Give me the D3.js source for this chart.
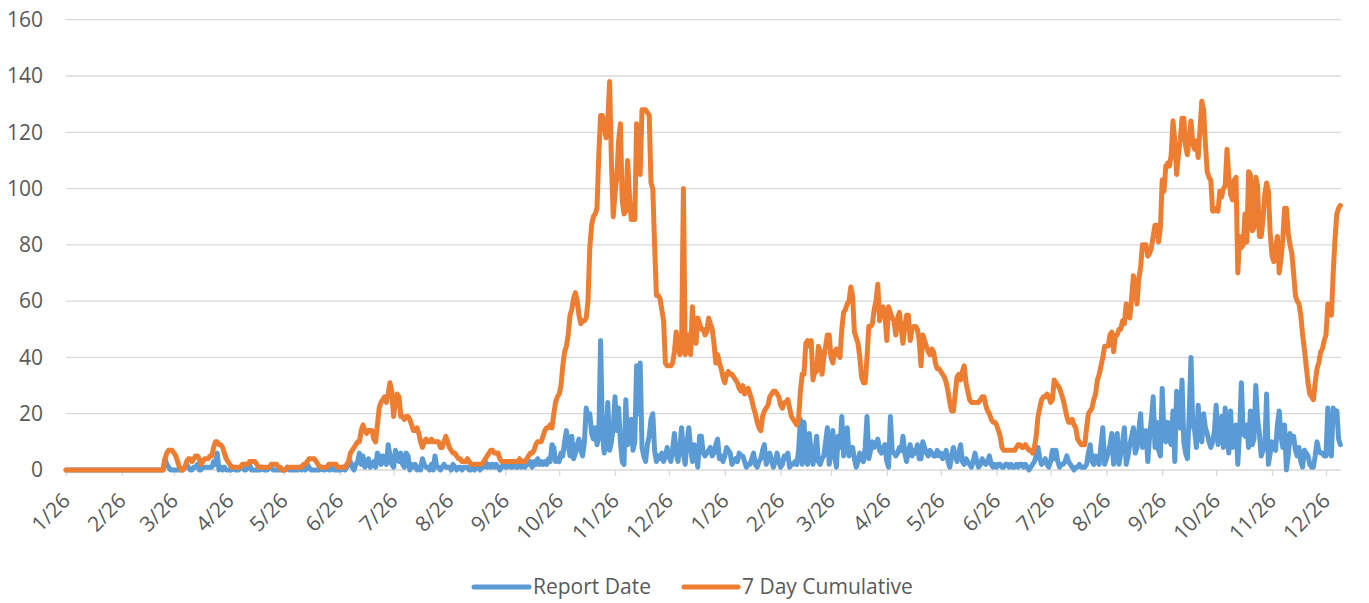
<!DOCTYPE html>
<html><head><meta charset="utf-8">
<script src="https://cdn.jsdelivr.net/npm/d3@7"></script>
<style>
body{margin:0;background:#fff;}
svg text{font-family:"Open Sans","Noto Sans",sans-serif;fill:#595959;}
</style></head>
<body><svg id="c" width="1369" height="603"></svg>
<script>
const startDate = "2020-01-26";
const monthTicks = ["2020-01-26","2020-02-26","2020-03-26","2020-04-26","2020-05-26","2020-06-26","2020-07-26","2020-08-26","2020-09-26","2020-10-26","2020-11-26","2020-12-26","2021-01-26","2021-02-26","2021-03-26","2021-04-26","2021-05-26","2021-06-26","2021-07-26","2021-08-26","2021-09-26","2021-10-26","2021-11-26","2021-12-26"];
const tickLabels = ["1/26","2/26","3/26","4/26","5/26","6/26","7/26","8/26","9/26","10/26","11/26","12/26","1/26","2/26","3/26","4/26","5/26","6/26","7/26","8/26","9/26","10/26","11/26","12/26"];
const yTicks = [0,20,40,60,80,100,120,140,160];
const seriesNames = ["Report Date","7 Day Cumulative"];

const reportDate = [
0,0,0,0,0,0,0,0,0,0, 0,0,0,0,0,0,0,0,0,0, 0,0,0,0,0,0,0,0,0,0, 0,0,0,0,0,0,0,0,0,0, 0,0,0,0,0,0,0,0,0,0,
0,0,0,0,0,4,2,1,0,0, 0,0,0,0,0,0,1,2,1,0, 0,1,1,2,0,0,1,1,1,1, 1,1,3,2,6,0,1,0,1,0, 0,0,0,1,0,0,0,1,1,0,
0,1,2,0,0,0,0,0,0,1, 0,0,0,1,1,0,0,0,0,0, 0,0,0,1,0,0,0,0,0,0, 1,0,1,0,2,1,0,0,0,0, 0,0,1,0,0,1,0,0,1,0,
0,0,0,0,1,0,1,2,3,1, 0,2,3,6,2,5,1,2,4,1, 2,3,1,6,5,2,5,3,2,9, 5,2,1,7,5,3,6,2,1,6, 5,0,2,1,2,0,1,0,4,2,
1,1,0,2,0,5,1,1,0,1, 2,1,1,1,0,2,1,0,1,1, 0,1,1,1,0,0,1,0,1,1, 0,1,1,3,1,2,1,2,1,2, 1,0,1,2,1,1,2,1,1,2,
1,1,2,1,2,1,2,2,3,1, 3,2,4,2,3,2,3,2,4,3, 9,8,3,4,3,6,5,10,14,9, 5,12,4,6,9,11,7,5,10,22, 18,20,13,11,15,9,12,46,13,6,
10,24,7,10,15,26,14,22,10,3, 2,25,9,12,18,7,10,37,20,38, 8,5,3,9,12,18,20,7,3,5, 4,6,3,5,8,5,3,7,13,6, 3,8,15,6,2,10,15,8,3,9,
5,1,12,12,6,5,6,7,8,5, 6,9,11,4,5,3,5,8,7,6, 2,3,4,3,6,5,5,3,1,2, 2,4,6,2,1,3,4,7,9,2, 4,6,3,1,3,6,3,1,2,5,
4,6,1,2,2,3,2,7,18,2, 17,5,2,13,6,2,6,12,3,2, 4,5,10,15,2,6,14,5,1,12, 8,19,5,9,15,5,7,8,4,1, 3,6,4,3,8,19,4,7,10,8,
9,11,7,6,8,9,3,1,19,7, 6,5,6,8,7,12,6,3,7,9, 5,7,6,9,4,4,10,8,6,5, 7,6,5,5,7,5,6,4,5,7, 3,1,5,8,5,3,6,9,3,2,
4,3,2,1,3,6,3,1,2,4, 3,2,3,5,2,1,2,1,2,2, 1,1,2,2,1,2,1,1,2,1, 2,2,1,2,1,0,1,2,3,5, 8,4,2,3,4,2,1,3,7,4,
7,3,1,2,2,3,5,3,2,1, 0,1,1,2,1,1,1,2,6,9, 3,2,5,3,2,9,15,2,4,6, 9,13,2,6,13,2,6,10,15,2, 5,9,12,15,6,8,14,20,8,11,
14,3,12,18,26,8,17,7,5,29, 12,10,17,11,9,21,3,28,16,15, 32,10,6,4,20,40,16,14,8,23, 12,10,20,15,13,10,8,10,14,23, 9,13,19,8,22,13,6,21,8,10,
16,2,14,31,13,12,16,8,21,9, 11,30,18,13,5,7,8,27,2,6, 10,8,7,16,21,12,8,16,0,5, 13,10,12,7,5,8,3,1,7,6, 5,2,1,1,5,10,7,6,6,5,
5,22,7,5,22,20,21,11,9
];

const sevenDay = [
0,0,0,0,0,0,0,0,0,0, 0,0,0,0,0,0,0,0,0,0, 0,0,0,0,0,0,0,0,0,0, 0,0,0,0,0,0,0,0,0,0, 0,0,0,0,0,0,0,0,0,0,
0,0,0,0,0,4,6,7,7,7, 6,5,3,1,0,0,1,3,4,4, 3,4,5,5,4,2,3,4,4,4, 5,5,8,10,10,9,9,8,6,4, 3,2,1,1,1,1,1,1,2,2,
2,2,3,3,3,3,2,1,1,1, 1,1,1,1,2,2,2,2,1,1, 0,0,0,1,1,1,1,1,1,1, 1,1,2,2,3,4,4,4,4,3, 2,1,1,1,1,1,2,2,2,2,
2,1,1,1,1,1,2,3,6,7, 8,9,10,10,14,16,14,13,14,14, 14,11,10,16,22,24,25,26,24,27, 31,28,19,24,27,26,19,19,18,19, 19,18,16,14,14,15,13,10,8,10,
11,10,10,11,10,10,10,10,8,8, 10,12,10,8,7,6,6,5,4,4, 3,3,3,4,3,2,2,2,2,2, 2,2,3,4,5,6,7,7,6,6, 6,4,3,3,3,3,3,3,3,3,
3,3,4,3,3,3,4,5,6,6, 7,9,10,10,10,12,14,15,15,16, 15,20,24,26,27,30,37,42,44,48, 55,57,61,63,60,55,52,53,53,54, 60,79,87,90,91,93,112,126,126,122,
118,124,138,110,90,98,104,117,123,96, 91,92,110,98,89,89,89,123,110,105, 128,128,128,127,126,102,100,80,62,62, 61,57,53,38,37,37,37,38,42,49, 45,41,44,100,41,45,48,41,58,48,
45,54,52,50,50,48,49,54,52,50, 45,38,41,38,36,33,31,34,35,34, 34,33,32,31,29,28,30,27,28,29, 27,25,22,20,17,15,14,19,21,22, 23,26,27,28,28,27,26,23,22,24,
24,25,22,19,18,17,16,18,28,34, 34,45,46,44,46,32,35,35,44,42, 34,40,44,48,48,40,38,42,43,41, 40,50,56,57,59,60,65,62,49,47, 45,40,33,31,31,40,51,51,52,57,
60,66,53,56,58,55,46,58,56,54, 53,48,54,56,50,45,51,55,55,46, 50,51,51,50,46,37,48,46,44,42, 41,43,42,38,36,36,35,34,33,31, 28,24,21,21,27,33,34,32,35,37,
31,28,25,24,24,24,24,24,25,26, 26,23,21,20,18,17,17,16,14,12, 8,7,7,7,7,7,7,7,8,9, 9,8,8,9,8,7,7,6,8,12, 19,22,25,26,26,27,26,24,25,32,
31,30,29,27,25,22,19,17,17,18, 16,15,11,10,9,9,9,15,20,21, 22,25,27,32,34,37,40,44,44,44, 48,49,42,48,48,50,50,53,52,59, 56,54,61,69,65,59,68,72,80,80,
80,76,77,79,83,87,87,81,86,103, 99,108,109,108,112,124,117,105,112,117, 125,125,115,112,118,124,116,114,117,111, 121,131,128,116,106,104,103,92,92,93, 92,99,97,100,101,114,104,98,96,103,
104,70,83,79,80,91,81,106,105,85, 86,104,101,83,83,89,98,102,99,84, 76,74,79,83,70,75,82,93,93,84, 80,77,70,62,60,59,55,48,43,37, 31,27,26,25,31,36,38,42,43,46,
48,59,57,55,70,82,91,93,94
];

const colors = ["#5B9BD5","#ED7D31"];
const parse = d3.utcParse("%Y-%m-%d");
const t0 = parse(startDate);
const dayOf = i => d3.utcDay.offset(t0, i);

const svg = d3.select("#c");
const x = d3.scaleUtc().domain([t0, parse(monthTicks[monthTicks.length-1])]).range([66, 1326]);
const y = d3.scaleLinear().domain([0,160]).range([470, 19.7]);
const xRight = 1341;
const FS = "21px";

// gridlines
svg.append("g").selectAll("line").data(yTicks.filter(v=>v>0)).join("line")
  .attr("x1", 66).attr("x2", xRight).attr("y1", d=>y(d)).attr("y2", d=>y(d))
  .attr("stroke", "#d9d9d9").attr("stroke-width", 1.3);

// y labels
svg.append("g").selectAll("text").data(yTicks).join("text")
  .attr("x", 43).attr("y", d=>y(d)).attr("dy","0.35em").attr("text-anchor","end")
  .style("font-size",FS).text(d=>d);

// x axis
const tickDates = monthTicks.map(parse);
const xAxis = d3.axisBottom(x).tickValues(tickDates).tickSize(6).tickFormat((d,i)=>tickLabels[i]);
const gx = svg.append("g").attr("transform","translate(0,470)").call(xAxis);
gx.select(".domain").attr("d", `M66,0H${xRight}`).attr("stroke","#d9d9d9").attr("stroke-width",1.3);
gx.selectAll(".tick line").attr("stroke","#d9d9d9").attr("stroke-width",1.3);
gx.selectAll(".tick text")
  .attr("y",0).attr("dy",0).attr("text-anchor","end")
  .attr("transform","translate(5,32) rotate(-45)")
  .style("font-size",FS).style("fill","#595959").style("font-family","'Open Sans','Noto Sans',sans-serif");

// lines
const line = d3.line().x((d,i)=>x(dayOf(i))).y(d=>y(d)).curve(d3.curveLinear);
[reportDate, sevenDay].forEach((s,k)=>{
  svg.append("path").datum(s).attr("d", line).attr("fill","none")
    .attr("stroke", colors[k]).attr("stroke-width", 5)
    .attr("stroke-linejoin","round").attr("stroke-linecap","round");
});

// legend
const leg = [{x1:474,x2:529,tx:533},{x1:684,x2:738,tx:742}];
leg.forEach((L,k)=>{
  svg.append("line").attr("x1",L.x1).attr("x2",L.x2).attr("y1",587).attr("y2",587)
    .attr("stroke",colors[k]).attr("stroke-width",5).attr("stroke-linecap","round");
  svg.append("text").attr("x",L.tx).attr("y",587).attr("dy","0.35em")
    .style("font-size",FS).text(seriesNames[k]);
});
</script></body></html>
